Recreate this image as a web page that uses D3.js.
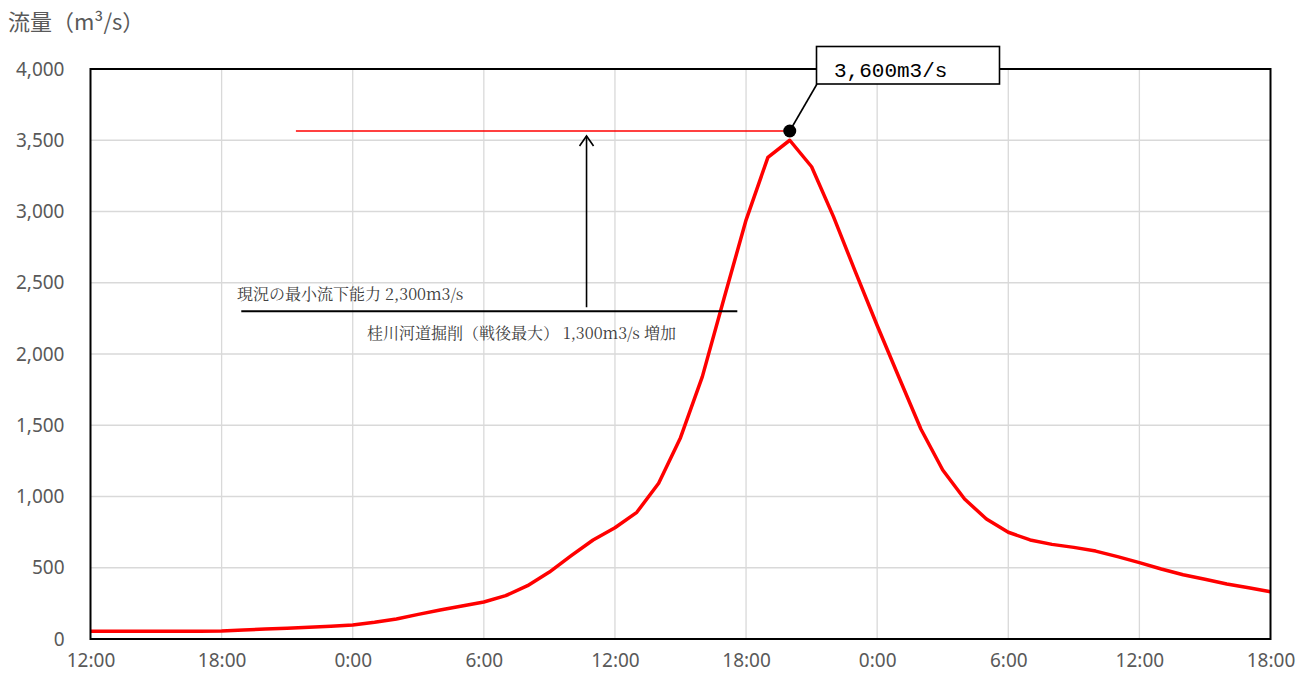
<!DOCTYPE html>
<html><head><meta charset="utf-8">
<script src="https://cdn.jsdelivr.net/npm/d3@7"></script>
<style>body{margin:0;background:#fff;}svg{display:block;}</style>
</head><body>
<svg id="c" width="1309" height="684"></svg>
<script>
// ---- data ----
const hours = d3.range(0, 55); // hourly from 12:00 day 1
const flow = [55,55,55,55,55,55,57,63,70,75,82,89,98,117,140,173,204,232,260,304,374,470,585,695,781,889,1093,1413,1841,2395,2940,3380,3500,3314,2964,2578,2200,1835,1474,1186,982,842,749,695,664,643,617,578,536,491,451,419,386,360,332];
const xTickHours = [0,6,12,18,24,30,36,42,48,54];
const xTickLabels = ["12:00","18:00","0:00","6:00","12:00","18:00","0:00","6:00","12:00","18:00"];
const yTicks = [0,500,1000,1500,2000,2500,3000,3500,4000];
const yTitle = "流量（m³/s）";
const peakValue = 3565, peakHour = 32, peakLabel = "3,600m3/s";
const capacity = 2300, capacityLabel = "現況の最小流下能力 2,300m3/s";
const increaseLabel = "桂川河道掘削（戦後最大） 1,300m3/s 増加";
const redLineStartHour = 9.4, capLineStart = 6.9, capLineEnd = 29.6, arrowHour = 22.7;

// ---- layout ----
const L = 90.5, R = 1270.5, T = 69, B = 639;
const svg = d3.select("#c");
const x = d3.scaleLinear().domain([0, 54]).range([L, R]);
const y = d3.scaleLinear().domain([0, 4000]).range([B, T]);

// grid
const g = svg.append("g");
g.selectAll(".hg").data(yTicks.filter(d => d > 0 && d < 4000)).join("line")
  .attr("x1", L).attr("x2", R).attr("y1", d => y(d)).attr("y2", d => y(d))
  .attr("stroke", "#d9d9d9").attr("stroke-width", 1.3);
g.selectAll(".vg").data(xTickHours.filter(d => d > 0 && d < 54)).join("line")
  .attr("y1", T).attr("y2", B).attr("x1", d => x(d)).attr("x2", d => x(d))
  .attr("stroke", "#d9d9d9").attr("stroke-width", 1.3);

// axes (labels)
const yAxis = d3.axisLeft(y).tickValues(yTicks).tickFormat(d3.format(",")).tickSize(0).tickPadding(26);
const ya = svg.append("g").attr("transform", `translate(${L},0)`).call(yAxis);
ya.select(".domain").remove();
ya.selectAll("text").attr("font-family", "'Noto Sans', sans-serif").attr("font-size", 19).attr("fill", "#595959");

const xAxis = d3.axisBottom(x).tickValues(xTickHours).tickFormat((d, i) => xTickLabels[i]).tickSize(0).tickPadding(15);
const xa = svg.append("g").attr("transform", `translate(0,${B})`).call(xAxis);
xa.select(".domain").remove();
xa.selectAll("text").attr("font-family", "'Noto Sans', sans-serif").attr("font-size", 19).attr("fill", "#595959");

// y title
svg.append("text").attr("x", 8).attr("y", 30).text(yTitle)
  .attr("font-family", "'Noto Sans CJK JP', sans-serif").attr("font-size", 22).attr("fill", "#595959");

// line
const line = d3.line().x((d, i) => x(hours[i])).y(d => y(d));
svg.append("path").datum(flow).attr("d", line).attr("fill", "none")
  .attr("stroke", "#ff0000").attr("stroke-width", 3.5).attr("stroke-linejoin", "round");

// frame
svg.append("rect").attr("x", L).attr("y", T).attr("width", R - L).attr("height", B - T)
  .attr("fill", "none").attr("stroke", "#000").attr("stroke-width", 2);

// red peak line
svg.append("line").attr("x1", x(redLineStartHour)).attr("x2", x(peakHour))
  .attr("y1", y(peakValue)).attr("y2", y(peakValue)).attr("stroke", "#ff0000").attr("stroke-width", 1.6);

// capacity line
svg.append("line").attr("x1", x(capLineStart)).attr("x2", x(capLineEnd))
  .attr("y1", y(capacity)).attr("y2", y(capacity)).attr("stroke", "#000").attr("stroke-width", 2);

// arrow
const ax = x(arrowHour), ay0 = y(capacity) - 4, ay1 = y(peakValue) + 5;
svg.append("line").attr("x1", ax).attr("x2", ax).attr("y1", ay0).attr("y2", ay1).attr("stroke", "#000").attr("stroke-width", 1.6);
svg.append("path").attr("d", `M${ax-7},${ay1+10} L${ax},${ay1} L${ax+7},${ay1+10}`)
  .attr("fill", "none").attr("stroke", "#000").attr("stroke-width", 1.6);

// annotation texts
const serif = "'Noto Serif CJK JP','Liberation Serif','Noto Sans CJK JP',serif";
svg.append("text").attr("x", 237).attr("y", 300).text(capacityLabel)
  .attr("font-family", serif).attr("font-size", 16).attr("fill", "#404040");
svg.append("text").attr("x", 367).attr("y", 339).text(increaseLabel)
  .attr("font-family", serif).attr("font-size", 16).attr("fill", "#404040");

// callout
const px = x(peakHour), py = y(peakValue);
svg.append("line").attr("x1", 817).attr("y1", 84).attr("x2", px).attr("y2", py).attr("stroke", "#000").attr("stroke-width", 1.6);
svg.append("circle").attr("cx", px).attr("cy", py).attr("r", 6.5).attr("fill", "#000");
svg.append("rect").attr("x", 816.5).attr("y", 46.5).attr("width", 183).attr("height", 37.5)
  .attr("fill", "#fff").attr("stroke", "#000").attr("stroke-width", 1.6);
svg.append("text").attr("x", 834).attr("y", 77).text(peakLabel)
  .attr("font-family", "'Liberation Mono', monospace").attr("font-size", 21).attr("fill", "#000");
</script>
</body></html>
